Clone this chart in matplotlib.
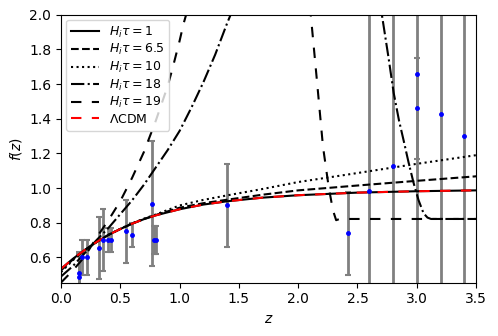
import numpy as np
import matplotlib
matplotlib.use("Agg")
import matplotlib.pyplot as plt

# growth-rate data f(z) with errors
z_data = [0.15, 0.15, 0.18, 0.22, 0.32, 0.35, 0.40, 0.42, 0.55, 0.60, 0.77, 0.78, 0.80,
          1.40, 2.42, 2.60, 2.80, 3.00, 3.00, 3.20, 3.40]
f_data = [0.49, 0.51, 0.60, 0.60, 0.654, 0.70, 0.70, 0.70, 0.75, 0.73, 0.91, 0.70, 0.70,
          0.90, 0.74, 0.985, 1.13, 1.46, 1.66, 1.43, 1.30]
f_err = [0.14, 0.11, 0.10, 0.10, 0.18, 0.18, 0.07, 0.07, 0.18, 0.07, 0.36, 0.08, 0.08,
         0.24, 0.24, 1.5, 1.5, 0.29, 1.5, 1.5, 1.5]

# curves
z_smooth = [0.0, 0.1, 0.2, 0.3, 0.4, 0.5, 0.6, 0.7, 0.8, 1.0, 1.2, 1.4, 1.7, 2.0, 2.5, 3.0, 3.5]
f_lcdm = [0.534, 0.592, 0.643, 0.689, 0.730, 0.764, 0.795, 0.821, 0.843, 0.878, 0.905, 0.924,
          0.945, 0.959, 0.974, 0.982, 0.987]
f_h1 = [0.534, 0.592, 0.643, 0.689, 0.730, 0.764, 0.795, 0.821, 0.843, 0.878, 0.905, 0.924,
        0.945, 0.959, 0.974, 0.982, 0.987]
f_h65 = [0.525, 0.588, 0.642, 0.689, 0.730, 0.764, 0.795, 0.822, 0.845, 0.887, 0.913, 0.933,
         0.962, 0.987, 1.015, 1.042, 1.068]
f_h10 = [0.515, 0.584, 0.641, 0.689, 0.731, 0.765, 0.797, 0.824, 0.848, 0.900, 0.932, 0.958,
         0.995, 1.035, 1.087, 1.140, 1.190]

z_h18 = [0.0, 0.1, 0.2, 0.3, 0.4, 0.5, 0.6, 0.7, 0.8, 0.9, 1.0, 1.1, 1.2, 1.3, 1.4, 1.43, 1.46,
         np.nan,
         2.69, 2.707, 2.76, 2.805, 2.85, 2.889, 2.93, 2.973, 3.015, 3.057, 3.09, 3.12, 3.5]
f_h18 = [0.49, 0.55, 0.625, 0.70, 0.77, 0.85, 0.93, 1.02, 1.12, 1.22, 1.33, 1.465, 1.61, 1.77,
         1.95, 2.0, 2.06,
         np.nan,
         2.09, 1.994, 1.76, 1.55, 1.39, 1.275, 1.15, 1.03, 0.93, 0.855, 0.83, 0.822, 0.822]

z_h19 = [0.0, 0.05, 0.1, 0.2, 0.3, 0.4, 0.5, 0.6, 0.7, 0.8, 0.9, 0.944, 1.0, 1.034, 1.055, 1.08,
         np.nan,
         2.10, 2.108, 2.158, 2.209, 2.257, 2.293, 2.32, 2.35, 3.5]
f_h19 = [0.455, 0.49, 0.525, 0.605, 0.715, 0.815, 0.925, 1.06, 1.21, 1.39, 1.59, 1.70, 1.85,
         1.95, 2.0, 2.08,
         np.nan,
         2.05, 1.985, 1.62, 1.24, 1.007, 0.872, 0.815, 0.822, 0.822]

fig = plt.figure(figsize=(4.98, 3.36), dpi=100)
ax = fig.add_axes([0.1225, 0.159, 0.8335, 0.797])

ax.errorbar(z_data, f_data, yerr=f_err, fmt='b.', ecolor='gray', elinewidth=2,
            capsize=2.5, capthick=1.5, markersize=5)

ax.plot(z_smooth, f_h1, 'k-', lw=1.5, label=r'$H_i\tau = 1$')
ax.plot(z_smooth, f_h65, 'k--', lw=1.5, label=r'$H_i\tau = 6.5$')
ax.plot(z_smooth, f_h10, 'k:', lw=1.5, label=r'$H_i\tau = 10$')
ax.plot(z_h18, f_h18, 'k-.', lw=1.5, label=r'$H_i\tau = 18$')
ax.plot(z_h19, f_h19, color='k', ls=(0, (5, 5)), lw=1.5, label=r'$H_i\tau = 19$')
ax.plot(z_smooth, f_lcdm, color='red', ls=(0, (5, 5)), lw=1.5, label=r'$\Lambda$CDM')

ax.set_xlim(0, 3.5)
ax.set_ylim(0.455, 2.0)
ax.set_xlabel(r'$z$', fontsize=10)
ax.set_ylabel(r'$f(z)$', fontsize=10)
ax.tick_params(labelsize=10)
ax.legend(loc='upper left', fontsize=9, labelspacing=0.2, handlelength=2.2,
          borderaxespad=0.4)

fig.savefig('out.png', dpi=100)
